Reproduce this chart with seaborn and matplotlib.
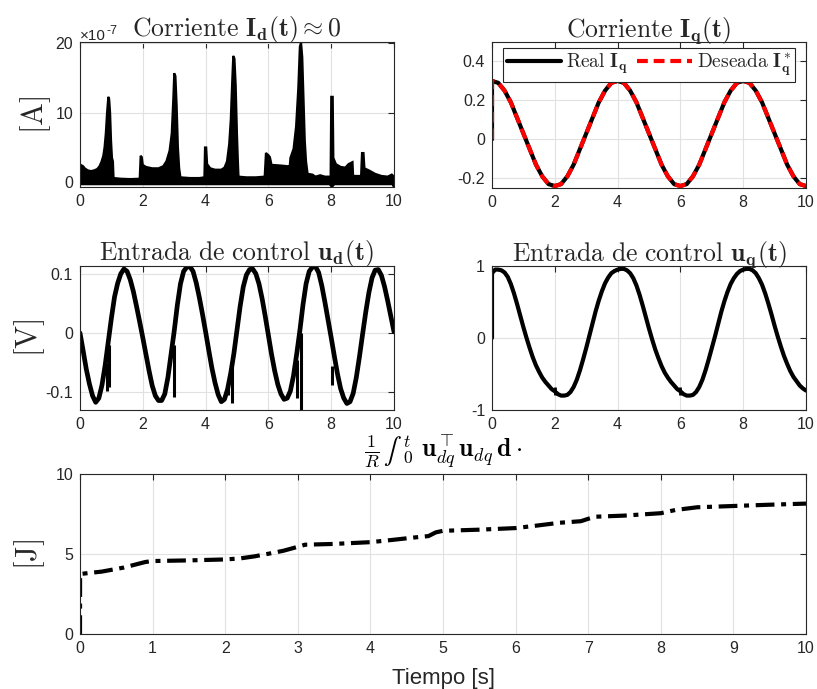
import numpy as np
import matplotlib
matplotlib.use("Agg")
import matplotlib.pyplot as plt
import seaborn as sns

# ---------------------------------------------------------------- data
# d-axis current envelope (units of 1e-7 A): upper edge of the noisy band
id_hi_t = [0.00, 0.03, 0.06, 0.10, 0.15, 0.25, 0.35, 0.45, 0.55, 0.62, 0.68, 0.74, 0.78,
           0.82, 0.86, 0.90, 0.93, 0.96, 0.99, 1.02, 1.05, 1.07, 1.30, 1.60, 1.90, 1.93,
           1.97, 2.00, 2.10, 2.30, 2.50, 2.65, 2.75, 2.85, 2.92, 2.97, 3.00, 3.04, 3.08,
           3.12, 3.16, 3.20, 3.50, 3.80, 3.96, 3.98, 4.02, 4.05, 4.15, 4.30, 4.50, 4.60,
           4.68, 4.75, 4.80, 4.85, 4.88, 4.92, 4.96, 5.00, 5.03, 5.05, 5.30, 5.60, 5.88,
           5.92, 6.00, 6.05, 6.10, 6.40, 6.62, 6.65, 6.70, 6.80, 6.88, 6.95, 7.00, 7.04,
           7.08, 7.12, 7.16, 7.20, 7.25, 7.40, 7.50, 7.65, 7.80, 7.98, 8.00, 8.05, 8.07,
           8.15, 8.30, 8.45, 8.55, 8.68, 8.70, 8.95, 8.98, 9.03, 9.06, 9.20, 9.40, 9.60,
           9.80, 9.93, 10.00]
id_hi = [0.8, 1.0, 2.4, 2.3, 2.0, 1.7, 1.6, 1.7, 1.9, 2.3, 2.9, 3.8, 5.0,
         7.0, 10.0, 12.3, 12.0, 10.0, 6.0, 3.5, 3.0, 0.6, 0.5, 0.45, 0.5, 3.8,
         3.6, 2.5, 2.2, 2.0, 2.0, 2.3, 3.0, 4.5, 7.0, 12.0, 15.7, 15.3, 11.0,
         5.0, 2.0, 0.7, 0.6, 0.6, 0.7, 5.0, 5.0, 2.6, 2.0, 1.8, 1.8, 2.1,
         3.0, 5.5, 9.0, 15.0, 18.2, 17.8, 14.0, 7.0, 3.0, 0.8, 0.7, 0.7, 0.8,
         4.2, 3.9, 3.6, 2.5, 2.4, 2.3, 0.8, 3.5, 4.8, 8.0, 13.5, 19.5, 20.2,
         18.0, 12.0, 6.0, 3.0, 1.2, 1.1, 0.8, 1.0, 0.8, 0.8, 12.3, 12.3, 3.5,
         2.6, 2.2, 2.1, 2.6, 2.9, 0.9, 0.9, 4.2, 4.2, 2.0, 1.7, 1.2, 0.9,
         0.8, 1.1, 0.8]
# lower edge of the same band
id_lo_t = [0.0, 1.0, 2.0, 3.0, 4.0, 5.0, 6.0, 7.0, 7.95, 8.02, 8.10, 9.0, 9.95, 10.0]
id_lo = [-0.3, -0.3, -0.3, -0.3, -0.3, -0.3, -0.3, -0.3, -0.3, -0.7, -0.3, -0.3, -0.3, -0.7]

# q-axis current: measured and reference (t = 0 start, then every 0.2 s)
iq_t = [0.0] + [round(0.2 * k, 1) for k in range(51)]
iq_real = [0.0,
           0.30, 0.29, 0.25, 0.19, 0.11, 0.03, -0.05, -0.13, -0.19, -0.23, -0.24,
           -0.23, -0.19, -0.13, -0.05, 0.03, 0.11, 0.19, 0.25, 0.29, 0.30,
           0.29, 0.25, 0.19, 0.11, 0.03, -0.05, -0.13, -0.19, -0.23, -0.24,
           -0.23, -0.19, -0.13, -0.05, 0.03, 0.11, 0.19, 0.25, 0.29, 0.30,
           0.29, 0.25, 0.19, 0.11, 0.03, -0.05, -0.13, -0.19, -0.23, -0.24]
iq_ref = [0.0,
          0.30, 0.29, 0.25, 0.19, 0.11, 0.03, -0.05, -0.13, -0.19, -0.23, -0.24,
          -0.23, -0.19, -0.13, -0.05, 0.03, 0.11, 0.19, 0.25, 0.29, 0.30,
          0.29, 0.25, 0.19, 0.11, 0.03, -0.05, -0.13, -0.19, -0.23, -0.24,
          -0.23, -0.19, -0.13, -0.05, 0.03, 0.11, 0.19, 0.25, 0.29, 0.30,
          0.29, 0.25, 0.19, 0.11, 0.03, -0.05, -0.13, -0.19, -0.23, -0.24]

# control inputs, every 0.1 s
u_t = [round(0.1 * k, 1) for k in range(101)]
ud = [0.000, -0.030, -0.061, -0.086, -0.106, -0.117, -0.110, -0.088, -0.055, -0.015,
      0.025, 0.061, 0.084, 0.100, 0.108, 0.104, 0.090, 0.070, 0.045, 0.019,
      -0.008, -0.036, -0.064, -0.089, -0.106, -0.114, -0.114, -0.103, -0.075, -0.036,
      0.003, 0.047, 0.083, 0.104, 0.111, 0.112, 0.104, 0.085, 0.060, 0.032,
      0.002, -0.029, -0.059, -0.084, -0.104, -0.116, -0.112, -0.095, -0.068, -0.035,
      0.005, 0.045, 0.078, 0.098, 0.107, 0.108, 0.100, 0.083, 0.058, 0.028,
      -0.004, -0.036, -0.064, -0.087, -0.103, -0.112, -0.110, -0.098, -0.072, -0.036,
      0.003, 0.047, 0.083, 0.104, 0.111, 0.112, 0.102, 0.080, 0.052, 0.022,
      -0.008, -0.039, -0.069, -0.094, -0.110, -0.119, -0.116, -0.102, -0.075, -0.040,
      -0.002, 0.035, 0.068, 0.093, 0.106, 0.107, 0.097, 0.078, 0.054, 0.028,
      0.002]
# short switching glitches on u_d
ud_spk_t = [0.86, 0.93, 2.98, 4.70, 4.85, 6.90, 7.05, 8.02]
ud_spk_lo = [-0.098, -0.092, -0.108, -0.105, -0.118, -0.110, -0.130, -0.088]
ud_spk_hi = [-0.050, -0.020, -0.020, -0.080, -0.050, -0.045, 0.000, -0.055]

uq_t = [0.0] + u_t
uq = [0.0,
      0.90, 0.95, 0.95, 0.94, 0.91, 0.85, 0.75, 0.62, 0.47, 0.31,
      0.15, 0.00, -0.14, -0.27, -0.38, -0.47, -0.55, -0.61, -0.66, -0.71,
      -0.74, -0.78, -0.80, -0.80, -0.79, -0.75, -0.68, -0.58, -0.45, -0.30,
      -0.14, 0.03, 0.20, 0.37, 0.52, 0.65, 0.76, 0.84, 0.90, 0.93,
      0.95, 0.96, 0.96, 0.94, 0.90, 0.83, 0.73, 0.60, 0.45, 0.29,
      0.13, -0.02, -0.16, -0.28, -0.39, -0.48, -0.55, -0.61, -0.66, -0.71,
      -0.74, -0.78, -0.80, -0.80, -0.79, -0.75, -0.68, -0.58, -0.45, -0.30,
      -0.14, 0.02, 0.19, 0.36, 0.51, 0.64, 0.75, 0.83, 0.89, 0.93,
      0.95, 0.96, 0.96, 0.94, 0.90, 0.83, 0.74, 0.62, 0.48, 0.33,
      0.17, 0.02, -0.12, -0.25, -0.36, -0.46, -0.54, -0.60, -0.66, -0.70,
      -0.73]
uq_blip_t = [2.0, 6.0]
uq_blip_lo = [-0.79, -0.79]
uq_blip_hi = [-0.68, -0.68]

# dissipated energy
e_t = [0.0, 0.001, 0.3, 0.6, 0.9, 1.0, 1.5, 2.0, 2.2, 2.4, 2.6, 2.8, 3.0, 3.1, 3.5,
       4.0, 4.3, 4.6, 4.8, 4.9, 5.0, 5.5, 6.0, 6.3, 6.6, 6.9, 7.0, 7.1, 7.5, 8.0,
       8.2, 8.5, 9.0, 9.5, 10.0]
e_v = [0.0, 3.75, 3.9, 4.15, 4.5, 4.56, 4.6, 4.66, 4.72, 4.85, 5.02, 5.2, 5.45, 5.58,
       5.63, 5.74, 5.88, 6.03, 6.12, 6.35, 6.45, 6.52, 6.62, 6.78, 6.95, 7.05, 7.2,
       7.33, 7.4, 7.55, 7.75, 7.92, 8.0, 8.08, 8.15]

# ---------------------------------------------------------------- style
sns.set_theme(style="whitegrid")
plt.rcParams.update({
    "font.family": ["Liberation Sans", "DejaVu Sans"],
    "mathtext.fontset": "cm",
    "axes.unicode_minus": False,
    "axes.edgecolor": "#262626",
    "axes.linewidth": 0.8,
    "xtick.color": "#262626",
    "ytick.color": "#262626",
    "xtick.labelsize": 11.5,
    "ytick.labelsize": 11.5,
    "grid.color": "#e1e1e1",
    "grid.linewidth": 0.8,
})

W, H = 817, 689
fig = plt.figure(figsize=(W / 100, H / 100), dpi=100)

TITLE_FS = 18.5
YLAB_FS = 22
LW = 3.0


def make_axes(left, top, right, bottom):
    return fig.add_axes([left / W, 1 - bottom / H, (right - left) / W, (bottom - top) / H])


def style_axes(ax):
    ax.set_facecolor("white")
    ax.grid(True)
    ax.tick_params(direction="in", top=True, right=True, length=4, width=0.8, pad=5)
    for s in ax.spines.values():
        s.set_visible(True)
        s.set_color("#262626")
        s.set_linewidth(0.8)
    ax.set_axisbelow(True)


def y_label(text, px, py):
    fig.text(px / W, 1 - py / H, text, rotation=90, ha="center", va="center",
             fontsize=YLAB_FS, color="#262626")


# --- I_d
ax1 = make_axes(80, 42, 394, 187)
style_axes(ax1)
poly_x = list(id_hi_t) + list(id_lo_t[::-1])
poly_y = list(id_hi) + list(id_lo[::-1])
ax1.fill(poly_x, poly_y, color="black", lw=1.5, edgecolor="black")
ax1.set_xlim(0, 10)
ax1.set_ylim(-0.7, 20.2)
ax1.set_xticks(range(0, 11, 2))
ax1.set_yticks([0, 10, 20])
ax1.set_title(r"$\mathrm{Corriente}\ \mathbf{I_d(t)}\approx 0$", fontsize=TITLE_FS, pad=4)
y_label(r"$[\mathrm{A}]$", 36, 115)
fig.text(80 / W, 1 - 40 / H, "×10", fontsize=11, color="#262626", ha="left", va="baseline")
fig.text(107 / W, 1 - 34 / H, "-7", fontsize=9, color="#262626", ha="left",
         va="baseline")

# --- I_q
ax2 = make_axes(492, 42, 806, 188)
style_axes(ax2)
sns.lineplot(x=iq_t, y=iq_real, ax=ax2, color="black", lw=LW, estimator=None, sort=False)
sns.lineplot(x=iq_t, y=iq_ref, ax=ax2, color="#ff0000", lw=LW, estimator=None, sort=False,
             linestyle="--")
ax2.lines[-1].set_dashes([2.6, 1.4])
ax2.set_xlim(0, 10)
ax2.set_ylim(-0.25, 0.5)
ax2.set_xticks(range(0, 11, 2))
ax2.set_yticks([-0.2, 0, 0.2, 0.4])
ax2.set_yticklabels(["-0.2", "0", "0.2", "0.4"])
ax2.set_title(r"$\mathrm{Corriente}\ \mathbf{I_q(t)}$", fontsize=TITLE_FS, pad=4)
h_real, = ax2.plot([], [], color="black", lw=LW)
h_ref, = ax2.plot([], [], color="#ff0000", lw=LW, dashes=[2.6, 1.4])
leg = ax2.legend([h_real, h_ref],
                 [r"$\mathrm{Real}\ \mathbf{I_q}$", r"$\mathrm{Deseada}\ \mathbf{I_q^*}$"],
                 loc="upper center", ncol=2, fontsize=14, frameon=True, fancybox=False,
                 framealpha=1, edgecolor="#262626", handlelength=2.8, handletextpad=0.25,
                 columnspacing=0.5, borderpad=0.2, borderaxespad=0.3)
leg.get_frame().set_linewidth(0.8)

# --- u_d
ax3 = make_axes(80, 266, 394, 410)
style_axes(ax3)
sns.lineplot(x=u_t, y=ud, ax=ax3, color="black", lw=3.4, estimator=None, sort=False)
ax3.vlines(ud_spk_t, ud_spk_lo, ud_spk_hi, color="black", lw=2.2)
ax3.set_xlim(0, 10)
ax3.set_ylim(-0.13, 0.113)
ax3.set_xticks(range(0, 11, 2))
ax3.set_yticks([-0.1, 0, 0.1])
ax3.set_yticklabels(["-0.1", "0", "0.1"])
ax3.set_title(r"$\mathrm{Entrada\ de\ control}\ \mathbf{u_d(t)}$", fontsize=TITLE_FS, pad=4)
y_label(r"$[\mathrm{V}]$", 30, 338)

# --- u_q
ax4 = make_axes(492, 266, 806, 410)
style_axes(ax4)
sns.lineplot(x=uq_t, y=uq, ax=ax4, color="black", lw=LW, estimator=None, sort=False)
ax4.vlines(uq_blip_t, uq_blip_lo, uq_blip_hi, color="black", lw=2.0)
ax4.set_xlim(0, 10)
ax4.set_ylim(-1, 1)
ax4.set_xticks(range(0, 11, 2))
ax4.set_yticks([-1, 0, 1])
ax4.set_yticklabels(["-1", "0", "1"])
ax4.set_title(r"$\mathrm{Entrada\ de\ control}\ \mathbf{u_q(t)}$", fontsize=TITLE_FS, pad=4)

# --- energy
ax5 = make_axes(80, 474, 806, 634)
style_axes(ax5)
sns.lineplot(x=e_t, y=e_v, ax=ax5, color="black", lw=LW, estimator=None, sort=False,
             linestyle="-.")
ax5.lines[-1].set_dashes([4.5, 1.6, 1.2, 1.6])
ax5.set_xlim(0, 10)
ax5.set_ylim(0, 10)
ax5.set_xticks(range(0, 11))
ax5.set_yticks([0, 5, 10])
y_label(r"$[\mathrm{J}]$", 30, 554)
ax5.set_xlabel("Tiempo [s]", fontsize=16, color="#262626", labelpad=9)

# title of the energy panel, assembled piece by piece so the integral sign
# is drawn at text size with its limits on the right
renderer = fig.canvas.get_renderer()
base_y = 457          # baseline, pixels from the top
pieces = [
    # text, fontsize, dy (px, positive = down), gap after (px)
    (r"$\frac{1}{R}$", TITLE_FS, 0, 3),
    ("$\u222b$", 19, 1, 0),
    (r"$_0^t$", 18, 0, 8),
    (r"$\mathbf{u}_{dq}^{\top}\mathbf{u}_{dq}\,\mathbf{d}\cdot$", TITLE_FS, 0, 0),
]
arts = []
widths = []
for txt, fs, dy, gap in pieces:
    a = fig.text(0, 0, txt, fontsize=fs, color="black", ha="left", va="baseline")
    widths.append(a.get_window_extent(renderer).width)
    arts.append(a)
total = sum(widths) + sum(p[3] for p in pieces)
x = 443 - total / 2
for a, w, (txt, fs, dy, gap) in zip(arts, widths, pieces):
    a.set_position((x / W, 1 - (base_y + dy) / H))
    x += w + gap

fig.savefig("out.png", dpi=100, facecolor="white")
